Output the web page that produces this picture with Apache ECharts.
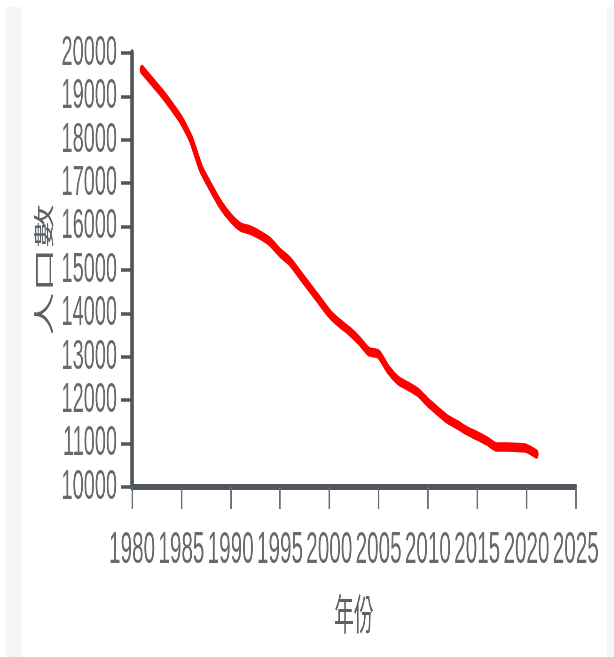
<!DOCTYPE html>
<html>
<head>
<meta charset="utf-8">
<script src="https://cdn.jsdelivr.net/npm/echarts@6/dist/echarts.min.js"></script>
<style>
  html, body { margin: 0; padding: 0; background: #ffffff; width: 614px; height: 657px; overflow: hidden; }
  #stripL { position: absolute; left: 6px; top: 7px; width: 16px; height: 650px; background: #f5f6f8; }
  #stripR { position: absolute; left: 607px; top: 7px; width: 7px; height: 650px; background: #f5f6f8; }
  #chart { position: absolute; left: 0; top: 0; width: 1306px; height: 657px; transform-origin: 0 0; transform: scaleX(0.47); }
</style>
</head>
<body>
<div id="stripL"></div>
<div id="stripR"></div>
<div id="chart"></div>
<script>
const years = [1981,1982,1983,1984,1985,1986,1987,1988,1989,1990,1991,1992,1993,1994,1995,1996,1997,1998,1999,2000,2001,2002,2003,2004,2005,2006,2007,2008,2009,2010,2011,2012,2013,2014,2015,2016,2017,2018,2019,2020,2021];
const population = [19620,19350,19080,18780,18450,18000,17330,16900,16500,16200,15990,15920,15800,15650,15400,15200,14900,14600,14300,14000,13780,13600,13380,13120,13060,12700,12450,12320,12180,11950,11750,11560,11430,11290,11180,11060,10920,10920,10910,10890,10760];
const xAxisName = '年份';
const yAxisName = '人口數';

const numFont = "'Liberation Sans Narrow', 'Arial Narrow', 'Liberation Sans', sans-serif";
const cjkFont = "'Noto Sans CJK TC', 'Noto Sans CJK SC', sans-serif";
const chart = echarts.init(document.getElementById('chart'), null, { renderer: 'canvas' });
chart.setOption({
  animation: false,
  backgroundColor: 'transparent',
  grid: { left: 281, right: 81, top: 53, bottom: 170, containLabel: false },
  xAxis: {
    type: 'value', min: 1980, max: 2025, interval: 5,
    name: xAxisName, nameLocation: 'middle', nameGap: 106,
    nameTextStyle: { fontSize: 42, color: '#5c6166', fontFamily: cjkFont },
    axisLine: { show: true, lineStyle: { color: '#50565c', width: 6 } },
    axisTick: { show: true, length: 22, lineStyle: { color: '#6a6f74', width: 3.2 } },
    axisLabel: { hideOverlap: false, showMinLabel: true, showMaxLabel: true,
      fontSize: 44, color: '#666a6e', fontFamily: numFont, margin: 42, formatter: v => String(v) },
    splitLine: { show: false }
  },
  yAxis: {
    type: 'value', min: 10000, max: 20000, interval: 1000,
    name: yAxisName, nameLocation: 'middle', nameRotate: 90, nameGap: 166,
    nameTextStyle: { fontSize: 44, color: '#5c6166', fontFamily: cjkFont },
    axisLine: { show: true, lineStyle: { color: '#50565c', width: 7.5 } },
    axisTick: { show: true, length: 23, lineStyle: { color: '#50565c', width: 3.5 } },
    axisLabel: { hideOverlap: false, showMinLabel: true, showMaxLabel: true,
      fontSize: 42.5, color: '#666a6e', fontFamily: numFont, margin: 32, formatter: v => String(v) },
    splitLine: { show: false }
  },
  series: [{
    type: 'line',
    data: years.map((y, i) => [y, population[i]]),
    showSymbol: false,
    smooth: 0.2,
    lineStyle: { color: '#ff0000', width: 9.5, cap: 'round', join: 'round' },
    z: 3
  }]
});
</script>
</body>
</html>
